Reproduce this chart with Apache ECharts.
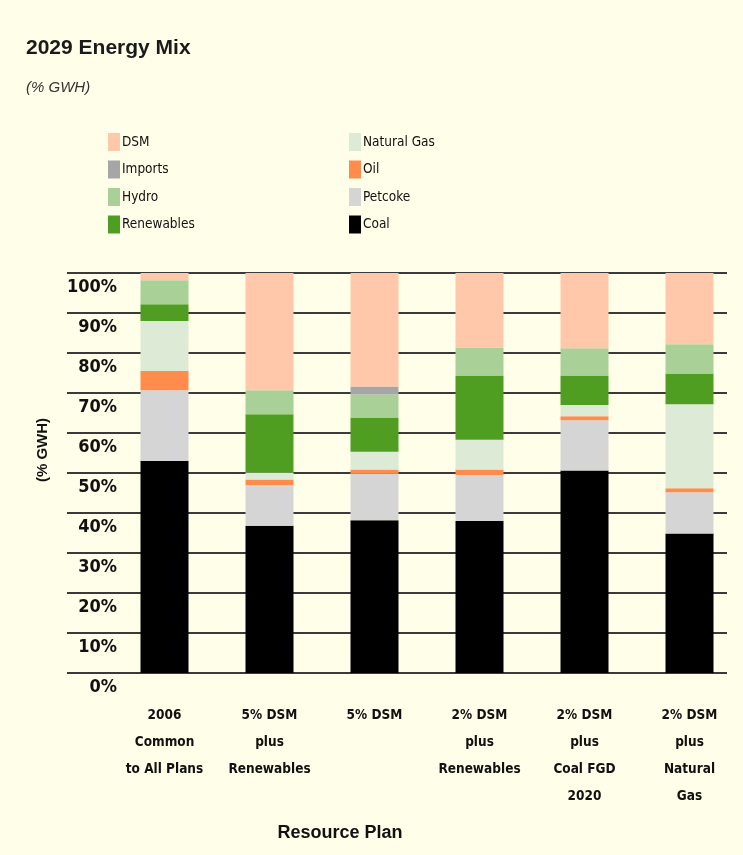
<!DOCTYPE html>
<html>
<head>
<meta charset="utf-8">
<script src="https://cdn.jsdelivr.net/npm/echarts@6/dist/echarts.min.js"></script>
<style>
  html, body { margin: 0; padding: 0; background: #FFFEE8; }
  #chart { width: 743px; height: 855px; }
</style>
</head>
<body>
<div id="chart"></div>
<script>
// Resource plans (x categories)
const plans = [
  '2006\nCommon\nto All Plans',
  '5% DSM\nplus\nRenewables',
  '5% DSM',
  '2% DSM\nplus\nRenewables',
  '2% DSM\nplus\nCoal FGD\n2020',
  '2% DSM\nplus\nNatural\nGas'
];

// Share of 2029 GWh by source, per plan (%), stacked bottom to top
const coal       = [53.0, 36.8, 38.2, 38.0, 50.6, 34.9];
const petcoke    = [17.7, 10.2, 11.7, 11.5, 12.6, 10.3];
const oil        = [4.8, 1.4, 1.0, 1.4, 1.0, 1.0];
const naturalGas = [12.5, 1.7, 4.4, 7.4, 2.8, 21.0];
const renewables = [4.2, 14.6, 8.6, 16.1, 7.4, 7.7];
const hydro      = [6.0, 6.0, 5.7, 7.0, 6.8, 7.3];
const imports    = [0, 0, 2.0, 0, 0, 0];
const dsm        = [1.8, 29.3, 28.4, 18.6, 18.8, 17.8];

const yTicks = { min: 0, max: 100, step: 10 };

const sources = [
  { name: 'Coal',        data: coal,       color: '#000000' },
  { name: 'Petcoke',     data: petcoke,    color: '#D5D5D5' },
  { name: 'Oil',         data: oil,        color: '#FF8C4C' },
  { name: 'Natural Gas', data: naturalGas, color: '#DDEBD6' },
  { name: 'Renewables',  data: renewables, color: '#4F9E22' },
  { name: 'Hydro',       data: hydro,      color: '#A9D096' },
  { name: 'Imports',     data: imports,    color: '#A6A6A6' },
  { name: 'DSM',         data: dsm,        color: '#FFC8AA' }
];

const narrow = "'Liberation Sans Narrow', 'DejaVu Sans Condensed', 'Liberation Sans', sans-serif";
const sans = "'Liberation Sans', Arial, sans-serif";

const chart = echarts.init(document.getElementById('chart'), null, { renderer: 'canvas' });

const legendCommon = {
  orient: 'vertical',
  top: 133,
  itemWidth: 12,
  itemHeight: 18,
  itemGap: 9.5,
  padding: 0,
  icon: 'rect',
  selectedMode: false,
  textStyle: { fontFamily: narrow, fontSize: 13.5, color: '#111', padding: [0, 0, 0, -3] }
};

chart.setOption({
  backgroundColor: '#FFFEE8',
  animation: false,
  title: {
    text: '2029 Energy Mix',
    subtext: '(% GWH)',
    left: 26,
    top: 38,
    padding: 0,
    itemGap: 21,
    textStyle: { fontFamily: sans, fontSize: 21, fontWeight: 'bold', color: '#1a1a1a' },
    subtextStyle: { fontFamily: sans, fontSize: 15, fontStyle: 'italic', color: '#333' }
  },
  legend: [
    Object.assign({}, legendCommon, { left: 108, data: ['DSM', 'Imports', 'Hydro', 'Renewables'] }),
    Object.assign({}, legendCommon, { left: 349, data: ['Natural Gas', 'Oil', 'Petcoke', 'Coal'] })
  ],
  grid: [
    // gridline frame with the percentage labels
    { left: 67, width: 660, top: 273, height: 400 },
    // plotting area for the bars
    { left: 112, width: 630, top: 273, height: 400 }
  ],
  xAxis: [
    { gridIndex: 0, type: 'value', min: 0, max: 1, show: false },
    {
      gridIndex: 1,
      type: 'category',
      data: plans,
      axisLine: { show: false },
      axisTick: { show: false },
      axisLabel: {
        interval: 0,
        margin: 29,
        fontFamily: narrow,
        fontSize: 13.5,
        fontWeight: 'bold',
        lineHeight: 27,
        color: '#111'
      }
    }
  ],
  yAxis: [
    {
      gridIndex: 0,
      type: 'value',
      min: yTicks.min,
      max: yTicks.max,
      interval: yTicks.step,
      axisLine: { show: false },
      axisTick: { show: false },
      splitLine: { show: true, lineStyle: { color: '#3a3a3a', width: 2 } },
      axisLabel: {
        inside: true,
        margin: 50,
        align: 'right',
        verticalAlign: 'top',
        padding: [5, 0, 0, 0],
        formatter: '{value}%',
        fontFamily: narrow,
        fontSize: 18,
        fontWeight: 'bold',
        color: '#111'
      }
    },
    {
      gridIndex: 1,
      type: 'value',
      min: yTicks.min,
      max: yTicks.max,
      show: false,
      splitLine: { show: false }
    }
  ],
  graphic: [
    {
      type: 'text',
      x: 43,
      y: 450,
      rotation: Math.PI / 2,
      style: {
        text: '(% GWH)',
        align: 'center',
        verticalAlign: 'middle',
        font: "bold 15px 'Liberation Sans', Arial, sans-serif",
        fill: '#111'
      }
    },
    {
      type: 'text',
      x: 340,
      y: 833,
      style: {
        text: 'Resource Plan',
        align: 'center',
        verticalAlign: 'middle',
        font: "bold 18px 'Liberation Sans', Arial, sans-serif",
        fill: '#111'
      }
    }
  ],
  series: sources.map(s => ({
    name: s.name,
    type: 'bar',
    stack: 'mix',
    xAxisIndex: 1,
    yAxisIndex: 1,
    barWidth: 48,
    data: s.data,
    itemStyle: { color: s.color },
    emphasis: { disabled: true }
  }))
});
</script>
</body>
</html>
